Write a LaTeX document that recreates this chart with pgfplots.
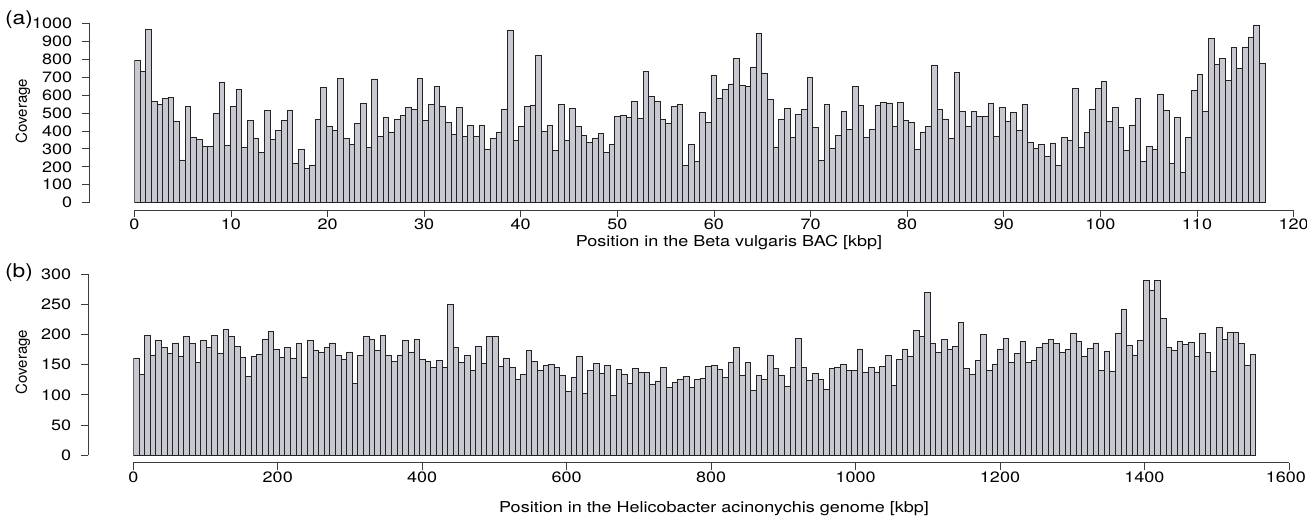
\documentclass[border=0pt]{standalone}
\usepackage{pgfplots}
\pgfplotsset{compat=1.18}
\usepackage{pgfplotstable}
\usepackage{fontspec}
\setmainfont{TeX Gyre Heros}[FakeStretch=1.2]
\newfontfamily\plainfont{TeX Gyre Heros}

\definecolor{barfill}{RGB}{200,200,208}
\definecolor{baredge}{RGB}{35,35,35}
\definecolor{axgray}{RGB}{60,60,60}

% coverage per bin, Beta vulgaris BAC (200 bins of ~0.585 kbp)
\pgfplotstableread{
cov
795
734
968
565
548
580
585
452
238
535
364
351
316
312
496
673
320
535
630
310
457
357
279
515
353
403
459
515
219
297
191
208
465
641
424
403
695
359
323
442
552
310
690
370
476
392
465
487
533
520
693
457
548
649
539
446
381
533
370
431
370
429
296
359
394
519
961
349
424
535
545
820
396
429
290
546
346
524
426
377
338
361
385
281
323
480
489
474
565
468
732
591
563
465
444
537
546
210
323
230
504
446
710
584
630
662
805
654
649
757
942
723
578
310
467
528
366
493
522
699
418
236
548
303
377
511
407
649
541
366
409
543
558
556
426
558
459
448
297
392
426
768
520
467
359
725
509
426
511
481
480
554
370
532
455
502
401
548
335
301
325
260
333
210
362
348
638
307
392
520
638
677
455
532
420
290
429
580
229
314
296
606
515
219
476
169
366
628
714
509
916
771
805
680
864
747
868
924
991
777
}\betatab

% coverage per bin, Helicobacter acinonychis genome (200 bins of ~7.77 kbp)
\pgfplotstableread{
cov
161
134
199
166
190
179
169
186
163
196
185
153
190
178
199
169
208
196
180
162
130
164
167
191
205
175
162
178
161
185
129
190
173
171
178
186
166
159
171
119
165
196
191
174
199
166
155
166
190
171
192
159
155
146
157
145
250
179
154
165
141
181
152
196
197
147
161
146
125
134
173
155
141
148
151
146
133
105
129
163
103
140
152
135
149
99
142
134
119
143
137
137
118
123
146
112
121
126
131
113
126
127
147
149
142
129
154
178
133
153
107
132
125
166
143
133
114
145
193
145
124
136
125
109
143
146
150
140
140
176
137
145
138
147
165
115
158
176
163
206
197
269
185
171
192
176
180
220
144
134
157
200
141
151
176
194
154
169
188
154
157
178
186
191
185
170
175
201
189
163
177
186
140
172
139
202
242
182
166
190
290
273
290
227
179
173
188
183
187
163
202
170
139
211
192
204
203
185
148
167
}\helitab

\pgfplotsset{
  rstyle/.style={
    scale only axis,
    anchor=south west,
    axis lines*=left,
    axis x line shift=7.3pt,
    axis y line shift=45pt,
    tick align=outside,
    major tick length=7pt,
    scaled ticks=false,
    /pgf/number format/assume math mode=true,
    /pgf/number format/1000 sep={},
    tick label style={font=\fontsize{15}{17}\selectfont},
    yticklabel style={inner sep=1pt, xshift=-9pt},
    xticklabel style={inner sep=1pt, yshift=-1pt},
    axis line style={line width=0.8pt, axgray},
    major tick style={line width=0.8pt, axgray},
    minor tick num=0,
  },
  covbars/.style={ybar, bar shift=0pt, fill=barfill, draw=baredge, line width=0.75pt},
}

\begin{document}
\begin{tikzpicture}
\path[use as bounding box] (0,0) rectangle (1307pt,518pt);

\begin{axis}[rstyle,
  at={(134.3pt,315.3pt)}, width=1159.3pt, height=179.4pt,
  xmin=0, xmax=120, ymin=0, ymax=1000,
  xtick distance=10, ytick distance=100]
\addplot[covbars, bar width=0.5852]
  table[x expr=(\coordindex+0.5)*0.5852, y=cov] {\betatab};
\end{axis}

\begin{axis}[rstyle,
  at={(133.3pt,62.7pt)}, width=1155.6pt, height=181.3pt,
  xmin=0, xmax=1600, ymin=0, ymax=300,
  xtick={0,200,...,1600}, ytick distance=50,
  xticklabels={0,200,400,600,800,1000,1200,1400,\hspace*{-6pt}1600}]
\addplot[covbars, bar width=7.77]
  table[x expr=(\coordindex+0.5)*7.77, y=cov] {\helitab};
\end{axis}

\node[inner sep=0pt, font=\fontsize{19}{21}\selectfont] at (19pt,498pt) {(a)};
\node[inner sep=0pt, font=\fontsize{19}{21}\selectfont] at (19pt,245pt) {(b)};
\node[inner sep=0pt, rotate=90, font=\plainfont\fontsize{15}{17}\selectfont] at (23pt,407pt) {Coverage};
\node[inner sep=0pt, rotate=90, font=\plainfont\fontsize{15}{17}\selectfont] at (23pt,156pt) {Coverage};
\node[inner sep=0pt, font=\fontsize{15}{17}\selectfont] at (729pt,275pt) {Position in the Beta vulgaris BAC [kbp]};
\node[inner sep=0pt, font=\fontsize{15}{17}\selectfont] at (714pt,9pt) {Position in the Helicobacter acinonychis genome [kbp]};
\end{tikzpicture}
\end{document}
